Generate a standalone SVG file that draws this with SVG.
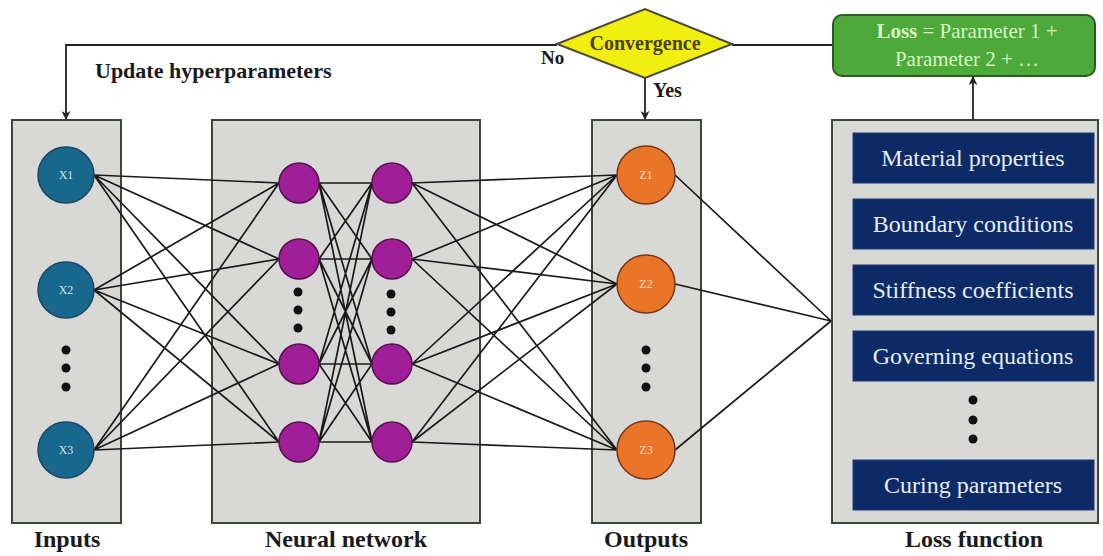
<svg xmlns="http://www.w3.org/2000/svg" width="1103" height="556" viewBox="0 0 1103 556" font-family="'Liberation Serif', 'Times New Roman', 'DejaVu Serif', serif">
  <defs>
    <marker id="arrow" viewBox="0 0 10 10" refX="9" refY="5" markerWidth="9" markerHeight="9" markerUnits="userSpaceOnUse" orient="auto">
      <path d="M0,0 L10,5 L0,10 L3,5 Z" fill="#222"/>
    </marker>
    <style>
      .panel { fill: #d8d9d6; stroke: #3c473c; stroke-width: 2; }
      .edge { fill: none; stroke: #1a1a1a; stroke-width: 1.7; }
      .flow { fill: none; stroke: #222; stroke-width: 1.8; }
      .in { fill: #17688c; stroke: #1c4660; stroke-width: 1.5; }
      .hid { fill: #a01f98; stroke: #55104d; stroke-width: 1.5; }
      .out { fill: #e97628; stroke: #7a3516; stroke-width: 1.5; }
      .dot { fill: #111; }
      .title { font-weight: bold; font-size: 24px; fill: #1a1a1a; text-anchor: middle; }
      .nlab { font-size: 12px; text-anchor: middle; }
      .term { fill: #0b2a66; stroke: #1d3c78; stroke-width: 1; }
      .termtxt { font-size: 24px; fill: #e6edf6; text-anchor: middle; }
    </style>
  </defs>

  <rect width="1103" height="556" fill="#ffffff"/>

  <!-- layer panels -->
  <g id="inputs-panel"><rect class="panel" x="12" y="120" width="109" height="403"/></g>
  <g id="network-panel"><rect class="panel" x="212" y="120" width="268" height="403"/></g>
  <g id="outputs-panel"><rect class="panel" x="592" y="120" width="109" height="403"/></g>
  <g id="loss-panel"><rect class="panel" x="832" y="120" width="266" height="403"/></g>

  <!-- connectors -->
  <g id="connectors">
    <!-- inputs to first hidden layer -->
    <path class="edge" d="M94 175 L279 183 M94 175 L279 259 M94 175 L279 364 M94 175 L279 442
                          M94 290 L279 183 M94 290 L279 259 M94 290 L279 364 M94 290 L279 442
                          M94 450 L279 183 M94 450 L279 259 M94 450 L279 364 M94 450 L279 442"/>
    <!-- first hidden layer to second hidden layer -->
    <path class="edge" d="M319 183 L372 183 M319 183 L372 259 M319 183 L372 364 M319 183 L372 442
                          M319 259 L372 183 M319 259 L372 259 M319 259 L372 364 M319 259 L372 442
                          M319 364 L372 183 M319 364 L372 259 M319 364 L372 364 M319 364 L372 442
                          M319 442 L372 183 M319 442 L372 259 M319 442 L372 364 M319 442 L372 442"/>
    <!-- second hidden layer to outputs -->
    <path class="edge" d="M412 183 L617 175 M412 183 L617 284 M412 183 L617 450
                          M412 259 L617 175 M412 259 L617 284 M412 259 L617 450
                          M412 364 L617 175 M412 364 L617 284 M412 364 L617 450
                          M412 442 L617 175 M412 442 L617 284 M412 442 L617 450"/>
    <!-- outputs into the loss function -->
    <path class="edge" d="M675 175 L831 321 M675 284 L831 321 M675 450 L831 321"/>
    <!-- feedback loop -->
    <path class="flow" d="M833 45 H732"/>
    <path class="flow" d="M557 45 H66 V119" marker-end="url(#arrow)"/>
    <path class="flow" d="M645 78 V119" marker-end="url(#arrow)"/>
    <path class="flow" d="M973 120 V77" marker-end="url(#arrow)"/>
    <text x="95" y="78" font-size="22" font-weight="bold" fill="#1a1a1a">Update hyperparameters</text>
    <text x="541" y="64" font-size="19" font-weight="bold" fill="#1a1a1a">No</text>
    <text x="653" y="97" font-size="20" font-weight="bold" fill="#1a1a1a">Yes</text>
  </g>

  <!-- decision -->
  <g id="convergence">
    <polygon points="557,44 645,9 732,44 645,78" fill="#f2ee0f" stroke="#4a4a3a" stroke-width="2"/>
    <text x="645" y="50" font-size="20" font-weight="bold" fill="#48420e" text-anchor="middle">Convergence</text>
  </g>

  <!-- loss expression -->
  <g id="loss-expression">
    <rect x="833" y="15" width="262" height="61" rx="9" fill="#4ca93a" stroke="#2d5c22" stroke-width="2"/>
    <text x="967" y="38" font-size="21" fill="#d8f6c4" text-anchor="middle"><tspan font-weight="bold">Loss</tspan> = Parameter 1 +</text>
    <text x="967" y="66" font-size="21" fill="#d8f6c4" text-anchor="middle">Parameter 2 + …</text>
  </g>

  <!-- input nodes -->
  <g id="x1"><circle class="in" cx="66" cy="175" r="28"/><text class="nlab" x="66" y="179" fill="#cfe4f0">X1</text></g>
  <g id="x2"><circle class="in" cx="66" cy="290" r="28"/><text class="nlab" x="66" y="294" fill="#cfe4f0">X2</text></g>
  <g id="x-dots"><circle class="dot" cx="66" cy="350" r="4.5"/><circle class="dot" cx="66" cy="368" r="4.5"/><circle class="dot" cx="66" cy="387" r="4.5"/></g>
  <g id="x3"><circle class="in" cx="66" cy="450" r="28"/><text class="nlab" x="66" y="454" fill="#cfe4f0">X3</text></g>

  <!-- hidden layer 1 -->
  <g id="h1-1"><circle class="hid" cx="299" cy="183" r="20"/></g>
  <g id="h1-2"><circle class="hid" cx="299" cy="259" r="20"/></g>
  <g id="h1-dots"><circle class="dot" cx="298" cy="292" r="4.5"/><circle class="dot" cx="298" cy="310" r="4.5"/><circle class="dot" cx="298" cy="328" r="4.5"/></g>
  <g id="h1-3"><circle class="hid" cx="299" cy="364" r="20"/></g>
  <g id="h1-4"><circle class="hid" cx="299" cy="442" r="20"/></g>

  <!-- hidden layer 2 -->
  <g id="h2-1"><circle class="hid" cx="392" cy="183" r="20"/></g>
  <g id="h2-2"><circle class="hid" cx="392" cy="259" r="20"/></g>
  <g id="h2-dots"><circle class="dot" cx="391" cy="294" r="4.5"/><circle class="dot" cx="391" cy="312" r="4.5"/><circle class="dot" cx="391" cy="330" r="4.5"/></g>
  <g id="h2-3"><circle class="hid" cx="392" cy="364" r="20"/></g>
  <g id="h2-4"><circle class="hid" cx="392" cy="442" r="20"/></g>

  <!-- output nodes -->
  <g id="z1"><circle class="out" cx="646" cy="175" r="29"/><text class="nlab" x="646" y="179" fill="#fbd9c0">Z1</text></g>
  <g id="z2"><circle class="out" cx="646" cy="284" r="29"/><text class="nlab" x="646" y="288" fill="#fbd9c0">Z2</text></g>
  <g id="z-dots"><circle class="dot" cx="646" cy="350" r="4.5"/><circle class="dot" cx="646" cy="368" r="4.5"/><circle class="dot" cx="646" cy="387" r="4.5"/></g>
  <g id="z3"><circle class="out" cx="646" cy="450" r="29"/><text class="nlab" x="646" y="454" fill="#fbd9c0">Z3</text></g>

  <!-- loss terms -->
  <g id="term-material"><rect class="term" x="853" y="133" width="241" height="50"/><text class="termtxt" x="973" y="166">Material properties</text></g>
  <g id="term-boundary"><rect class="term" x="853" y="199" width="241" height="50"/><text class="termtxt" x="973" y="232">Boundary conditions</text></g>
  <g id="term-stiffness"><rect class="term" x="853" y="265" width="241" height="50"/><text class="termtxt" x="973" y="298">Stiffness coefficients</text></g>
  <g id="term-governing"><rect class="term" x="853" y="331" width="241" height="50"/><text class="termtxt" x="973" y="364">Governing equations</text></g>
  <g id="term-dots"><circle class="dot" cx="973" cy="400" r="4.5"/><circle class="dot" cx="973" cy="420" r="4.5"/><circle class="dot" cx="973" cy="439" r="4.5"/></g>
  <g id="term-curing"><rect class="term" x="853" y="460" width="241" height="50"/><text class="termtxt" x="973" y="493">Curing parameters</text></g>

  <!-- panel captions -->
  <g id="captions">
    <text class="title" x="67" y="547">Inputs</text>
    <text class="title" x="346" y="547">Neural network</text>
    <text class="title" x="646" y="547">Outputs</text>
    <text class="title" x="974" y="547">Loss function</text>
  </g>
</svg>
